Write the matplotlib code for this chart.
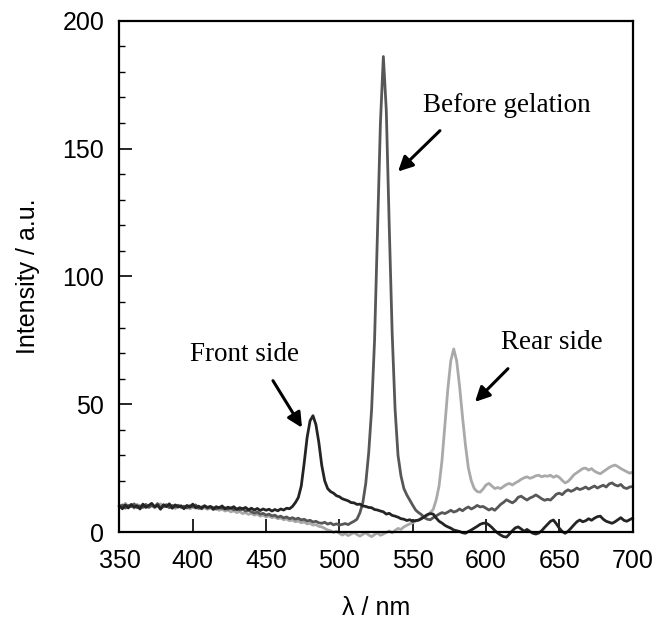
import numpy as np
import matplotlib
matplotlib.use("Agg")
import matplotlib.pyplot as plt

# -------------------------------------------------------------------
# Data - emission spectra (2 nm steps, 350-700 nm)
# -------------------------------------------------------------------
wavelength = np.arange(350, 701, 2)

front_side = [
    10.2, 9.1, 10.6, 9.4, 10.8, 9.7, 10.3, 9.0, 10.9, 9.6,      # 350
    10.4, 11.2, 9.8, 10.5, 8.9, 10.7, 9.9, 11.0, 9.3, 10.6,     # 370
    9.8, 10.2, 9.1, 10.4, 9.7, 10.9, 9.5, 10.1, 9.2, 10.3,      # 390
    9.6, 10.0, 8.9, 9.9, 9.4, 10.2, 9.0, 9.7, 9.3, 9.9,         # 410
    8.8, 9.5, 9.1, 9.6, 8.7, 9.3, 8.6, 9.2, 8.4, 9.0,           # 430
    8.5, 8.9, 8.2, 8.8, 8.3, 9.0, 8.6, 9.3, 9.1, 10.0,          # 450
    11.5, 13.5, 18.0, 27.0, 37.0, 43.5, 45.5, 42.0, 35.0, 26.0, # 470
    20.0, 17.0, 15.8, 15.2, 14.2, 13.8, 13.0, 12.6, 12.2, 11.5, # 490
    11.4, 10.8, 10.9, 10.2, 10.0, 9.6, 9.5, 8.8, 8.6, 8.2,      # 510
    7.9, 7.0, 7.3, 6.5, 6.2, 5.8, 5.2, 5.0, 4.5, 4.8,           # 530
    4.2, 4.5, 4.6, 5.2, 6.0, 6.8, 7.2, 7.0, 5.5, 4.2,           # 550
    3.5, 2.6, 2.0, 1.5, 0.8, 0.5, 0.2, -0.3, -0.5, 0.2,         # 570
    0.8, 1.5, 2.2, 3.0, 3.4, 3.5, 2.8, 1.8, 0.6, -0.4,          # 590
    -1.2, -1.8, -2.0, -0.8, 0.5, 1.6, 2.0, 1.2, 0.3, 1.0,       # 610
    0.2, -0.5, -0.8, -0.4, 0.5, 1.8, 3.0, 4.2, 4.7, 3.2,        # 630
    1.5, 0.2, -0.5, 0.3, 1.5, 2.8, 4.0, 4.7, 4.0, 4.4,          # 650
    5.2, 4.6, 5.4, 6.0, 6.2, 5.0, 4.2, 3.8, 3.4, 4.0,           # 670
    4.8, 5.6, 4.6, 4.2, 4.8, 5.4,                               # 690
]

before_gelation = [
    9.8, 10.6, 9.3, 10.4, 9.9, 11.0, 9.5, 10.2, 9.7, 10.8,          # 350
    9.6, 10.3, 9.9, 11.1, 9.4, 10.0, 10.7, 9.5, 10.4, 9.8,          # 370
    10.5, 9.6, 10.1, 9.4, 10.3, 9.9, 10.6, 9.2, 9.8, 10.1,          # 390
    9.3, 9.9, 9.6, 9.0, 9.7, 9.2, 9.5, 8.9, 9.4, 8.7,               # 410
    9.1, 8.6, 8.9, 8.2, 8.5, 7.9, 7.4, 7.8, 7.0, 7.3,               # 430
    6.6, 7.0, 6.3, 6.6, 5.8, 6.2, 5.5, 5.9, 5.2, 5.6,               # 450
    5.0, 5.4, 4.7, 5.0, 4.3, 4.6, 3.9, 4.2, 3.6, 3.4,               # 470
    3.8, 3.1, 3.5, 2.8, 3.2, 2.7, 3.0, 3.3, 2.9, 3.6,               # 490
    4.2, 5.0, 7.5, 11.5, 19.0, 31.0, 48.0, 75.0, 118.0, 160.0,      # 510
    186.0, 165.0, 120.0, 78.0, 48.0, 30.0, 22.0, 17.0, 14.5, 12.5,  # 530
    10.5, 8.6, 7.6, 6.8, 5.6, 5.0, 4.8, 5.6, 6.3, 7.0,              # 550
    7.6, 7.2, 7.8, 8.5, 7.8, 8.2, 9.0, 8.3, 9.2, 9.8,               # 570
    9.0, 9.6, 10.4, 9.8, 10.0, 9.3, 8.6, 9.2, 8.5, 9.6,             # 590
    10.8, 11.6, 12.6, 12.0, 11.4, 12.2, 13.6, 14.0, 13.2, 12.5,     # 610
    13.3, 13.8, 14.5, 13.8, 13.0, 12.4, 12.8, 12.5, 13.6, 14.8,     # 630
    15.2, 14.6, 15.8, 16.5, 15.9, 16.4, 17.2, 16.6, 17.0, 17.6,     # 650
    16.8, 17.4, 18.0, 17.2, 17.8, 18.3, 17.6, 18.8, 19.2, 18.4,     # 670
    18.0, 18.6, 17.4, 17.0, 17.6, 17.8,                             # 690
]

rear_side = [
    10.5, 9.6, 11.2, 9.9, 10.4, 9.3, 10.8, 10.1, 9.5, 10.6,     # 350
    9.9, 10.7, 9.4, 10.2, 11.0, 9.7, 10.3, 9.5, 10.0, 9.2,      # 370
    9.8, 10.3, 9.4, 9.9, 9.1, 9.7, 9.3, 9.8, 9.0, 9.5,          # 390
    8.9, 9.4, 8.7, 9.2, 8.5, 8.9, 8.2, 8.6, 7.9, 8.3,           # 410
    7.6, 8.0, 7.2, 7.6, 6.9, 7.3, 6.6, 7.0, 6.2, 6.6,           # 430
    5.9, 6.3, 5.6, 5.9, 5.2, 5.5, 4.8, 5.1, 4.4, 4.7,           # 450
    4.0, 4.3, 3.6, 3.9, 3.2, 3.4, 2.7, 2.9, 2.2, 2.0,           # 470
    1.4, 0.8, 0.5, -0.2, 0.3, -0.5, -1.2, -0.6, -1.4, -0.8,     # 490
    -0.2, -1.0, -1.6, -0.9, -0.3, -1.2, -1.8, -1.0, -0.4, -1.3, # 510
    -0.8, -0.2, 0.4, -0.3, 0.6, 1.4, 1.0, 2.0, 2.6, 3.2,        # 530
    3.6, 4.2, 4.8, 5.6, 6.2, 6.5, 7.6, 8.8, 12.5, 18.0,         # 550
    28.0, 42.0, 56.0, 67.0, 71.6, 67.0, 57.0, 45.0, 34.0, 25.0, # 570
    20.0, 17.0, 15.8, 15.6, 16.8, 18.4, 19.0, 18.0, 17.0, 17.4, # 590
    17.0, 17.8, 18.6, 19.0, 18.4, 19.2, 19.8, 20.6, 21.2, 21.6, # 610
    21.0, 21.4, 22.0, 22.2, 21.6, 22.0, 21.8, 22.2, 21.4, 22.0, # 630
    21.4, 20.2, 19.2, 19.8, 21.0, 22.4, 23.2, 24.0, 24.8, 25.0, # 650
    24.2, 24.8, 23.8, 23.2, 22.8, 23.6, 24.4, 25.2, 25.8, 26.2, # 670
    25.6, 24.8, 24.2, 23.6, 23.0, 23.4,                         # 690
]

# -------------------------------------------------------------------
# Plot
# -------------------------------------------------------------------
plt.rcParams["font.family"] = ["Liberation Sans", "DejaVu Sans"]

fig = plt.figure(figsize=(6.59, 6.25), dpi=100)
ax = fig.add_axes([0.1813, 0.1488, 0.7786, 0.818])

ax.plot(wavelength, rear_side, color="#a9a9a9", lw=2.0, clip_on=False)
ax.plot(wavelength, before_gelation, color="#575757", lw=2.0, clip_on=False)
ax.plot(wavelength, front_side, color="#242424", lw=2.0, clip_on=False)

ax.set_xlim(350, 700)
ax.set_ylim(0, 200)
ax.set_xticks(np.arange(350, 701, 50))
ax.set_yticks(np.arange(0, 201, 50))
ax.set_yticks(np.arange(0, 201, 10), minor=True)

ax.tick_params(axis="both", which="major", direction="in", length=9.5,
               width=1.2, labelsize=18, top=False, right=False)
ax.tick_params(axis="x", pad=12)
ax.tick_params(axis="y", pad=11)
ax.tick_params(axis="y", which="minor", direction="in", length=4.5, width=1.0)
for side in ax.spines.values():
    side.set_linewidth(1.6)

ax.set_xlabel("λ / nm", fontsize=18, labelpad=17)
ax.set_ylabel("Intensity / a.u.", fontsize=18, labelpad=16)

# labels + arrows
serif = ["Liberation Serif", "DejaVu Serif"]
arrow = dict(arrowstyle="-|>", color="black", lw=2.2, mutation_scale=22,
             shrinkA=0, shrinkB=0)

ax.text(614, 167, "Before gelation", fontsize=19.5, family=serif,
        ha="center", va="center")
ax.annotate("", xy=(540, 141), xytext=(568.6, 157), arrowprops=arrow)

ax.text(435.6, 69.4, "Front side", fontsize=19.5, family=serif,
        ha="center", va="center")
ax.annotate("", xy=(474.5, 40.8), xytext=(454.7, 59.2), arrowprops=arrow)

ax.text(645, 74, "Rear side", fontsize=19.5, family=serif,
        ha="center", va="center")
ax.annotate("", xy=(592.5, 50.9), xytext=(615, 63.9), arrowprops=arrow)

fig.savefig("out.png", dpi=100)
